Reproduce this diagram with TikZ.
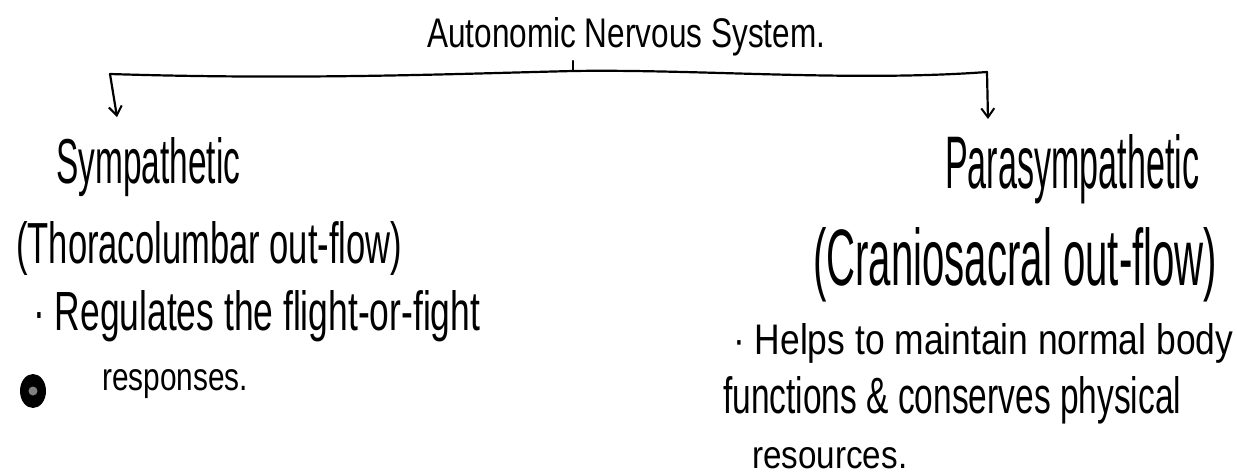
\documentclass[tikz,border=0pt]{standalone}
\usepackage{fontspec}
\usepackage{graphicx}
\setmainfont{Liberation Sans}
\usetikzlibrary{arrows.meta}
\newcommand{\fitwh}[3]{\resizebox{#1pt}{#2pt}{#3}}
\tikzset{
  txt/.style={anchor=base west, inner sep=0pt, text=black},
  conn/.style={line width=2.2pt, black, line cap=round, line join=round},
  arr/.style={conn, -{Straight Barb[length=9pt,width=13pt,line width=2pt]}}
}
\begin{document}
\begin{tikzpicture}[x=1pt,y=-1pt]
\useasboundingbox (0,0) rectangle (1237,475);
% title
\node[txt] (title) at (427,47) {\fitwh{398}{30}{Autonomic Nervous System.}};
% bracket
\coordinate (jt) at (573,61);
\coordinate (j) at (573,71);
\coordinate (bl) at (110,74);
\coordinate (br) at (987,72);
\coordinate (al) at (117,117);
\coordinate (ar) at (988,119);
\draw[conn] (bl) .. controls (300,80) and (450,74) .. (j)
                 .. controls (700,69) and (850,82) .. (br);
\draw[conn] (jt) -- (j);
\draw[arr] (bl) -- (al);
\draw[arr] (br) -- (ar);
% left branch
\node[txt] (sym) at (56,183) {\fitwh{184}{46}{Sympathetic}};
\node[txt] (symo) at (16,263) {\fitwh{386}{42}{(Thoracolumbar out-flow)}};
\node[txt] (symr1) at (33,330) {\fitwh{447}{40}{· Regulates the flight-or-fight}};
\node[txt] (symr2) at (102,390) {\fitwh{146}{21}{responses.}};
% right branch
\node[txt] (para) at (945,188) {\fitwh{254}{54}{Parasympathetic}};
\node[txt] (parao) at (813,285) {\fitwh{404}{58}{(Craniosacral out-flow)}};
\node[txt] (parar1) at (733,354) {\fitwh{500}{31}{· Helps to maintain normal body}};
\node[txt] (parar2) at (723,413) {\fitwh{458}{37}{functions \& conserves physical}};
\node[txt] (parar3) at (752,468) {\fitwh{155}{21}{resources.}};
% scan dot
\fill[black] (33,391) ellipse [x radius=13, y radius=17];
\fill[gray] (33,391) circle (4.5);
\end{tikzpicture}
\end{document}
